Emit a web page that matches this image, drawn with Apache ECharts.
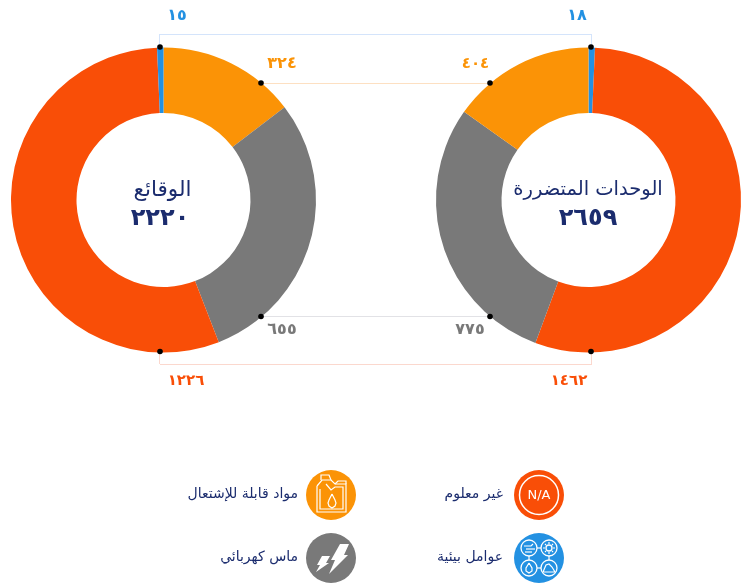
<!DOCTYPE html>
<html lang="ar">
<head>
<meta charset="UTF-8">
<title>الوقائع والوحدات المتضررة</title>
<script src="https://cdn.jsdelivr.net/npm/echarts@6/dist/echarts.min.js"></script>
<style>
  html, body { margin: 0; padding: 0; background: #fff; }
  #chart { width: 748px; height: 588px; }
</style>
</head>
<body>
<div id="chart"></div>
<script>
// القيم كما تظهر في الصورة
var causes = ['مواد قابلة للإشتعال', 'ماس كهربائي', 'غير معلوم', 'عوامل بيئية'];
var colors = ['#fb9306', '#797979', '#f94e07', '#2391e2'];

var incidentsTitle = 'الوقائع';
var incidentsTotal = '٢٢٢٠';
var incidentsValues = [324, 655, 1226, 15];
var incidentsLabels = ['٣٢٤', '٦٥٥', '١٢٢٦', '١٥'];

var unitsTitle = 'الوحدات المتضررة';
var unitsTotal = '٢٦٥٩';
var unitsValues = [18, 1462, 775, 404];
var unitsLabels = ['١٨', '١٤٦٢', '٧٧٥', '٤٠٤'];
var unitsNames = ['عوامل بيئية', 'غير معلوم', 'ماس كهربائي', 'مواد قابلة للإشتعال'];
var unitsColors = ['#2391e2', '#f94e07', '#797979', '#fb9306'];

var font = '"DejaVu Sans", sans-serif';
var navy = '#1b2c6e';
var left = 163.5, right = 588.5, cy = 200;

function pie(name, cx, values, names, cols) {
  return {
    type: 'pie', name: name, center: [cx, cy], radius: [87, 152.5],
    startAngle: 90, clockwise: true, silent: true, minAngle: 0,
    label: { show: false }, labelLine: { show: false },
    data: values.map(function (v, i) {
      return { value: v, name: names[i], itemStyle: { color: cols[i] } };
    })
  };
}

function hline(x1, x2, y, color) {
  return { type: 'line', shape: { x1: x1, y1: y, x2: x2, y2: y }, style: { stroke: color, lineWidth: 1 }, silent: true };
}
function vline(x, y1, y2, color) {
  return { type: 'line', shape: { x1: x, y1: y1, x2: x, y2: y2 }, style: { stroke: color, lineWidth: 1 }, silent: true };
}
function dot(x, y) {
  return { type: 'circle', shape: { cx: x, cy: y, r: 2.8 }, style: { fill: '#000' }, z: 10, silent: true };
}
function txt(s, x, y, size, color, weight, align) {
  return { type: 'text', x: x, y: y, z: 13, silent: true, style: {
    text: s, fontFamily: font, fontSize: size, fontWeight: weight || 'normal',
    fill: color, align: align || 'center', verticalAlign: 'middle' } };
}
function line(pts) {
  return { type: 'polyline', shape: { points: pts }, style: { stroke: '#fff', lineWidth: 1.2, fill: null }, z: 12, silent: true };
}
function poly(pts) {
  return { type: 'polygon', shape: { points: pts }, style: { fill: '#fff' }, z: 12, silent: true };
}
function ring(x, y, r, w) {
  return { type: 'circle', shape: { cx: x, cy: y, r: r }, style: { stroke: '#fff', fill: null, lineWidth: w || 1.3 }, z: 12, silent: true };
}
function disc(x, y, color) {
  return { type: 'circle', shape: { cx: x, cy: y, r: 25 }, style: { fill: color }, z: 11, silent: true };
}

var g = [];
// خطوط الربط بين الحلقتين
g.push(hline(160, 592, 34.5, '#d4e4fb'), vline(159.5, 34, 47, '#d4e4fb'), vline(591.5, 34, 47, '#d4e4fb'));
g.push(hline(261, 490, 83.5, '#fde0c2'));
g.push(hline(261, 490, 316.5, '#e2e2e6'));
g.push(hline(160, 592, 364.5, '#fbd8ce'), vline(159.5, 352, 364, '#fbd8ce'), vline(591.5, 352, 364, '#fbd8ce'));
g.push(dot(160, 47), dot(591, 47), dot(261, 83), dot(490, 83), dot(261, 316.5), dot(490, 316.5), dot(160, 351.5), dot(591, 351.5));

// القيم
g.push(txt(incidentsLabels[3], 177, 16, 16, colors[3], 'bold'));
g.push(txt(unitsLabels[0], 577, 16, 16, colors[3], 'bold'));
g.push(txt(incidentsLabels[0], 282, 64, 16, colors[0], 'bold'));
g.push(txt(unitsLabels[3], 475.5, 64, 15, colors[0], 'bold'));
g.push(txt(incidentsLabels[1], 282, 330, 16, colors[1], 'bold'));
g.push(txt(unitsLabels[2], 470, 330, 16, colors[1], 'bold'));
g.push(txt(incidentsLabels[2], 186, 381, 15, colors[2], 'bold'));
g.push(txt(unitsLabels[1], 569, 381, 15, colors[2], 'bold'));

// وسط الحلقتين
g.push(txt(incidentsTitle, 162.5, 190, 21.5, navy));
g.push(txt(incidentsTotal, 160, 219, 24, navy, 'bold'));
g.push(txt(unitsTitle, 588, 190, 19.5, navy));
g.push(txt(unitsTotal, 588, 219, 24, navy, 'bold'));

// وسيلة الإيضاح
g.push(txt(causes[0], 298, 494, 14, navy, 'normal', 'right'));
g.push(txt(causes[1], 298, 557, 14, navy, 'normal', 'right'));
g.push(txt(causes[2], 503, 494, 14, navy, 'normal', 'right'));
g.push(txt(causes[3], 503, 557, 14, navy, 'normal', 'right'));

g.push(disc(331, 495, colors[0]), disc(331, 558, colors[1]), disc(539, 495, colors[2]), disc(539, 558, colors[3]));

// أيقونة العبوة
g.push(line([[321,480],[321,475],[329,475],[331,480]]));
g.push(line([[317,486],[322,480],[331,480],[335,484],[346,484],[346,512],[317,512],[317,486]]));
g.push(line([[335,484],[338,481],[346,481],[346,484]]));
g.push(line([[320,489],[320,509],[343,509],[343,487],[335,487],[331,490],[326,484]]));
g.push(line([[332,494],[329,500],[328,503],[329,506],[332,508],[335,506],[336,503],[335,500],[332,494]]));
// أيقونة الصاعقة
g.push(poly([[340,544],[349,544],[344,555],[348,555],[329,574],[335,560],[331,560]]));
g.push(poly([[322,556],[330,556],[326,563],[329,563],[316,572],[320,565],[317,565]]));
// أيقونة غير معلوم
g.push(ring(539, 495, 19.5, 1.5), txt('N/A', 539, 495.5, 13, '#fff'));
// أيقونة العوامل البيئية
g.push(ring(529, 548, 8), ring(549, 548, 8), ring(529, 568, 8), ring(549, 568, 8));
g.push(ring(549, 548, 3));
g.push(line([[549,542],[549,544]]), line([[549,552],[549,554]]), line([[543,548],[545,548]]), line([[553,548],[555,548]]));
g.push(line([[545,544],[546,545]]), line([[552,551],[553,552]]), line([[545,552],[546,551]]), line([[552,545],[553,544]]));
g.push(line([[529,563],[526,568],[526,571],[529,573],[532,571],[532,568],[529,563]]));
g.push(line([[543,572],[546,565],[549,564],[552,567],[555,572],[543,572]]));
g.push(line([[524,546],[531,546],[533,544]]), line([[526,549],[535,549]]), line([[525,552],[532,552]]));
g.push(line([[529,556],[529,560]]), line([[549,556],[549,560]]), line([[537,548],[541,548]]), line([[537,568],[541,568]]));

var chart = echarts.init(document.getElementById('chart'), null, { renderer: 'canvas' });
chart.setOption({
  animation: false,
  backgroundColor: '#fff',
  series: [
    pie(incidentsTitle, left, incidentsValues, causes, colors),
    pie(unitsTitle, right, unitsValues, unitsNames, unitsColors)
  ],
  graphic: g
});
</script>
</body>
</html>
